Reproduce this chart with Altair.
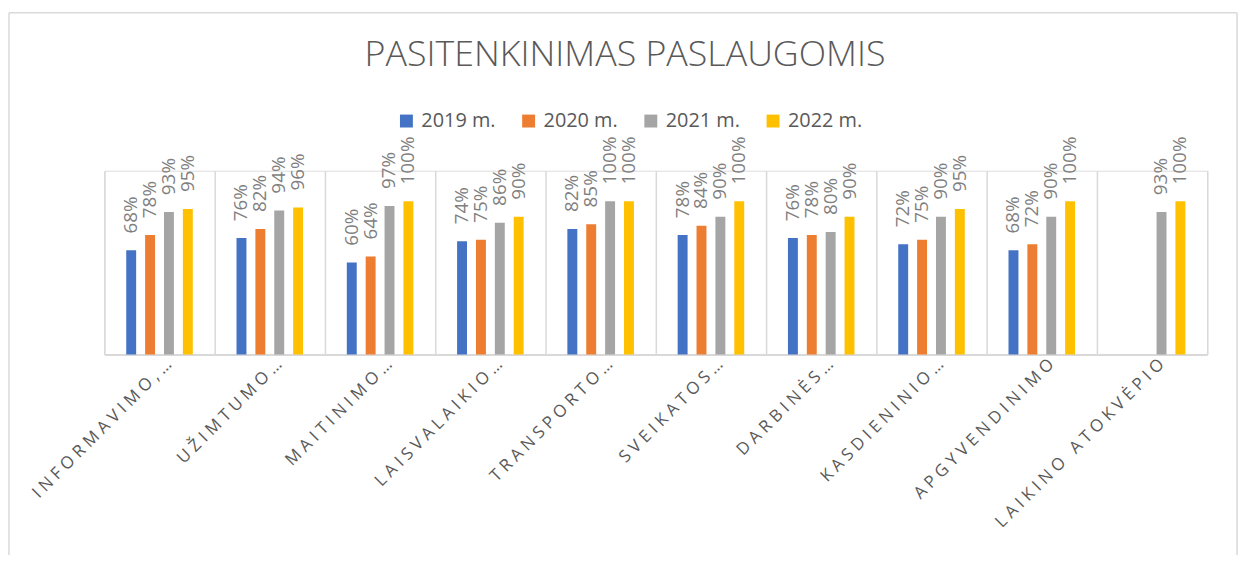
import altair as alt
import pandas as pd

categories = ["INFORMAVIMO,…", "UŽIMTUMO…", "MAITINIMO…", "LAISVALAIKIO…", "TRANSPORTO…",
              "SVEIKATOS…", "DARBINĖS…", "KASDIENINIO…", "APGYVENDINIMO", "LAIKINO ATOKVĖPIO"]
years = ["2019 m.", "2020 m.", "2021 m.", "2022 m."]
v2019 = [0.68, 0.76, 0.60, 0.74, 0.82, 0.78, 0.76, 0.72, 0.68, None]
v2020 = [0.78, 0.82, 0.64, 0.75, 0.85, 0.84, 0.78, 0.75, 0.72, None]
v2021 = [0.93, 0.94, 0.97, 0.86, 1.00, 0.90, 0.80, 0.90, 0.90, 0.93]
v2022 = [0.95, 0.96, 1.00, 0.90, 1.00, 1.00, 0.90, 0.95, 1.00, 1.00]
colors = ["#4472C4", "#ED7D31", "#A5A5A5", "#FFC000"]

rows = []
for yr, vals in zip(years, [v2019, v2020, v2021, v2022]):
    for c, v in zip(categories, vals):
        if v is not None:
            rows.append({"category": c, "year": yr, "value": v})
df = pd.DataFrame(rows)

W, H = 1110, 185
FONT = "Open Sans"

x_enc = alt.X(
    "category:N", sort=categories,
    scale=alt.Scale(domain=categories, paddingInner=0, paddingOuter=0),
    axis=alt.Axis(
        title=None, labelAngle=-45, labelAlign="right", labelBaseline="middle",
        labelFont=FONT, labelFontSize=17, labelColor="#595959",
        labelPadding=7, labelOffset=9, ticks=False, grid=True,
        gridColor="#d9d9d9", gridWidth=1.5, tickBand="extent",
        domainColor="#d9d9d9", domainWidth=2, labelLimit=400,
        labelExpr="join(split(replace(datum.label, ' ', '\u00a0'), ''), ' ')",
    ),
)
xo_enc = alt.XOffset(
    "year:N", sort=years,
    scale=alt.Scale(domain=years, range=[22, 89], paddingInner=0.474, paddingOuter=0),
)
y_enc = alt.Y("value:Q", scale=alt.Scale(domain=[0, 1.2]), axis=None)

bars = alt.Chart(df).mark_bar().encode(
    x=x_enc, xOffset=xo_enc, y=y_enc,
    color=alt.Color(
        "year:N", sort=years,
        scale=alt.Scale(domain=years, range=colors),
        legend=alt.Legend(
            title=None, orient="none", legendX=294, legendY=-60,
            direction="horizontal", columns=4, symbolType="square",
            symbolSize=169, symbolStrokeWidth=0, labelFont=FONT,
            labelFontSize=20, labelColor="#595959", columnPadding=23,
            labelOffset=5, padding=0,
        ),
    ),
)

labels = alt.Chart(df).mark_text(
    angle=270, align="left", baseline="middle", dx=17,
    font=FONT, fontSize=19, color="#7f7f7f",
).encode(
    x=x_enc, xOffset=xo_enc, y=y_enc,
    text=alt.Text("value:Q", format=".0%"),
)

one = pd.DataFrame({"k": [0]})
border_style = dict(color="#d9d9d9", strokeWidth=1.5)
top_rule = alt.Chart(one).mark_rule(**border_style).encode(
    x=alt.value(-96), x2=alt.value(1140), y=alt.value(-159))
left_rule = alt.Chart(one).mark_rule(**border_style).encode(
    x=alt.value(-96), y=alt.value(-159), y2=alt.value(400))
right_rule = alt.Chart(one).mark_rule(**border_style).encode(
    x=alt.value(1140), y=alt.value(-159), y2=alt.value(400))

chart = alt.layer(top_rule, left_rule, right_rule, bars, labels).properties(
    width=W, height=H,
    title=alt.TitleParams(
        "PASITENKINIMAS PASLAUGOMIS", font=FONT, fontSize=36, fontWeight=300,
        color="#595959", anchor="middle", frame="group", offset=0,
        dx=-31, dy=90, baseline="alphabetic",
    ),
    autosize=alt.AutoSizeParams(type="none"),
    padding={"left": 97, "top": 162, "right": 34, "bottom": 200},
).configure_view(stroke="transparent").configure(background="white")

chart.save("out.html", embed_options={"renderer": "svg", "actions": False})
